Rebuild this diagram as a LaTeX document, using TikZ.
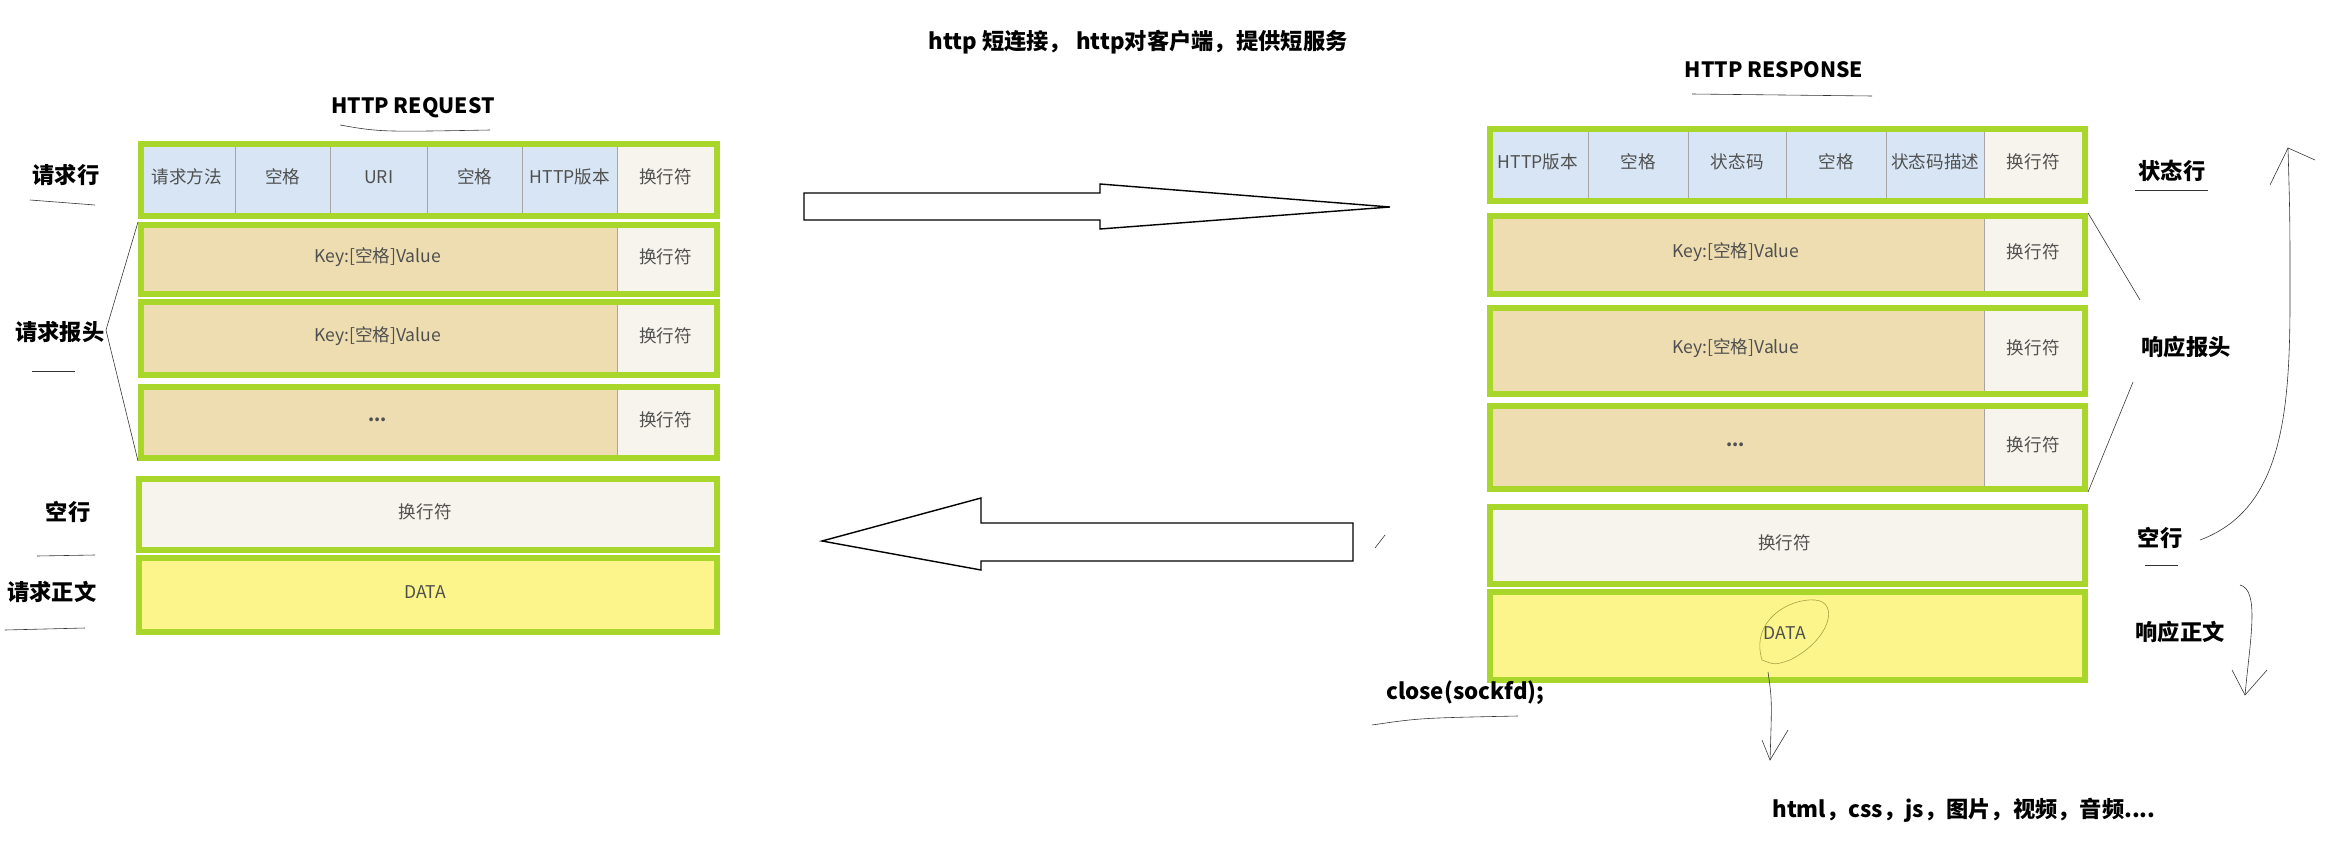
\documentclass[tikz,border=0pt]{standalone}
\usepackage{fontspec}
\setmainfont{Noto Sans CJK SC}
\usetikzlibrary{arrows.meta}
\definecolor{gframe}{HTML}{A9D62B}
\definecolor{cblue}{HTML}{D7E5F4}
\definecolor{ctan}{HTML}{EEDDB0}
\definecolor{cwhite}{HTML}{F6F4EC}
\definecolor{cyell}{HTML}{FBF58C}
\definecolor{ctxt}{HTML}{505050}
\newcommand\mkcell[7]{\node[cellbox,fill=#6,minimum width={(#4)*0.3mm},minimum height={(#5)*0.3mm}] (#1) at (#2,#3) {#7};}
\newcommand\mkframe[5]{\node[framebox,minimum width={(#4)*0.3mm},minimum height={(#5)*0.3mm}] (#1) at (#2,#3) {};}
\begin{document}
\begin{tikzpicture}[x=0.3mm,y=-0.3mm,
 cellbox/.style={anchor=north west,draw=gray!70,line width=0.4pt,inner sep=0pt,text=ctxt,font=\fontsize{15}{17}\selectfont},
 framebox/.style={anchor=north west,draw=gframe,line width=1.8mm,inner sep=0pt},
 lab/.style={font=\bfseries\fontsize{19}{22}\selectfont},
 hand/.style={line width=0.5pt,black!80},
 bigarrow/.style={draw=black,line width=1.2pt,fill=white}]
\useasboundingbox (0,0) rectangle (2332,856);
\node[font=\bfseries\fontsize{19}{22}\selectfont] (title) at (1138,42) {http 短连接， http对客户端，提供短服务};
% ---------- request ----------
\node[font=\bfseries\fontsize{18}{20}\selectfont] (reqt) at (413,108) {HTTP REQUEST};
\draw[hand] (340,125) .. controls (380,132) .. (490,130);
\mkcell{q1}{138}{141}{97}{72}{cblue}{请求方法}
\mkcell{q2}{235}{141}{95}{72}{cblue}{空格}
\mkcell{q3}{330}{141}{97}{72}{cblue}{URI}
\mkcell{q4}{427}{141}{95}{72}{cblue}{空格}
\mkcell{q5}{522}{141}{95}{72}{cblue}{HTTP版本}
\mkcell{q6}{617}{141}{97}{72}{cwhite}{换行符}
\mkframe{qf1}{138}{141}{576}{72}
\mkcell{h1}{138}{222}{479}{69}{ctan}{Key:[空格]Value}
\mkcell{h1n}{617}{222}{97}{69}{cwhite}{换行符}
\mkframe{qf2}{138}{222}{576}{69}
\mkcell{h2}{138}{299}{479}{73}{ctan}{Key:[空格]Value}
\mkcell{h2n}{617}{299}{97}{73}{cwhite}{换行符}
\mkframe{qf3}{138}{299}{576}{73}
\mkcell{h3}{138}{384}{479}{71}{ctan}{\textbf{...}}
\mkcell{h3n}{617}{384}{97}{71}{cwhite}{换行符}
\mkframe{qf4}{138}{384}{576}{71}
\mkcell{qe}{136}{476}{578}{71}{cwhite}{换行符}
\mkframe{qf5}{136}{476}{578}{71}
\mkcell{qd}{136}{555}{578}{74}{cyell}{DATA}
\mkframe{qf6}{136}{555}{578}{74}
\node[lab] (l1) at (66,175) {请求行};
\draw[hand] (30,200) -- (95,205);
\node[lab] (l2) at (60,332) {请求报头};
\draw[hand] (32,371) -- (75,371);
\node[lab] (l3) at (68,512) {空行};
\draw[hand] (37,556) -- (95,555);
\node[lab] (l4) at (52,592) {请求正文};
\draw[hand] (5,630) -- (85,628);
\coordinate (bq) at (106,330);
\draw[hand] (qf2.north west) -- (bq) -- (qf4.south west);
% ---------- arrows ----------
\draw[bigarrow] (804,193) -- (1100,193) -- (1100,184) -- (1390,207) -- (1100,229) -- (1100,220) -- (804,220) -- cycle;
\draw[bigarrow] (1353,523) -- (981,523) -- (981,498) -- (822,541) -- (981,570) -- (981,561) -- (1353,561) -- cycle;
% ---------- response ----------
\node[font=\bfseries\fontsize{18}{20}\selectfont] (rest) at (1774,70) {HTTP RESPONSE};
\draw[hand] (1692,94) -- (1872,96);
\mkcell{r1}{1487}{126}{101}{72}{cblue}{HTTP版本}
\mkcell{r2}{1588}{126}{100}{72}{cblue}{空格}
\mkcell{r3}{1688}{126}{98}{72}{cblue}{状态码}
\mkcell{r4}{1786}{126}{100}{72}{cblue}{空格}
\mkcell{r5}{1886}{126}{98}{72}{cblue}{状态码描述}
\mkcell{r6}{1984}{126}{98}{72}{cwhite}{换行符}
\mkframe{rf1}{1487}{126}{595}{72}
\mkcell{k1}{1487}{213}{497}{78}{ctan}{Key:[空格]Value}
\mkcell{k1n}{1984}{213}{98}{78}{cwhite}{换行符}
\mkframe{rf2}{1487}{213}{595}{78}
\mkcell{k2}{1487}{305}{497}{86}{ctan}{Key:[空格]Value}
\mkcell{k2n}{1984}{305}{98}{86}{cwhite}{换行符}
\mkframe{rf3}{1487}{305}{595}{86}
\mkcell{k3}{1487}{403}{497}{83}{ctan}{\textbf{...}}
\mkcell{k3n}{1984}{403}{98}{83}{cwhite}{换行符}
\mkframe{rf4}{1487}{403}{595}{83}
\mkcell{re}{1487}{504}{595}{77}{cwhite}{换行符}
\mkframe{rf5}{1487}{504}{595}{77}
\mkcell{rd}{1487}{589}{595}{88}{cyell}{DATA}
\mkframe{rf6}{1487}{589}{595}{88}
\node[lab] (m1) at (2172,171) {状态行};
\draw[hand] (2135,190) -- (2208,190);
\node[lab] (m2) at (2186,347) {响应报头};
\node[lab] (m3) at (2160,538) {空行};
\draw[hand] (2145,565) -- (2178,565);
\node[lab] (m4) at (2180,632) {响应正文};
\draw[hand] (rf2.north east) -- (2140,300);
\draw[hand] (2133,382) -- (rf4.south east);
\node[font=\bfseries\fontsize{19}{22}\selectfont,anchor=west] (close) at (1382,693) {close(sockfd);};
\draw[hand] (1372,725) .. controls (1420,718) .. (1518,716);
\draw[hand,yellow!60!black] (1762,660) .. controls (1750,620) and (1790,598) .. (1815,600) .. controls (1840,602) and (1830,640) .. (1790,660) .. controls (1775,665) .. (1762,660);
\draw[hand] (1768,672) .. controls (1772,700) .. (1770,760);
\draw[hand] (1762,740) -- (1770,760) -- (1788,730);
\node[font=\bfseries\fontsize{19}{22}\selectfont] (types) at (1964,810) {html，css，js，图片，视频，音频....};
\draw[hand] (2200,540) .. controls (2280,510) and (2290,420) .. (2290,300) .. controls (2290,220) .. (2288,148);
\draw[hand] (2270,185) -- (2288,148) -- (2315,160);
\draw[hand] (2240,585) .. controls (2260,590) and (2250,640) .. (2245,695);
\draw[hand] (2232,670) -- (2245,695) -- (2267,670);
\draw[hand] (1385,535) -- (1375,548);
\end{tikzpicture}
\end{document}
